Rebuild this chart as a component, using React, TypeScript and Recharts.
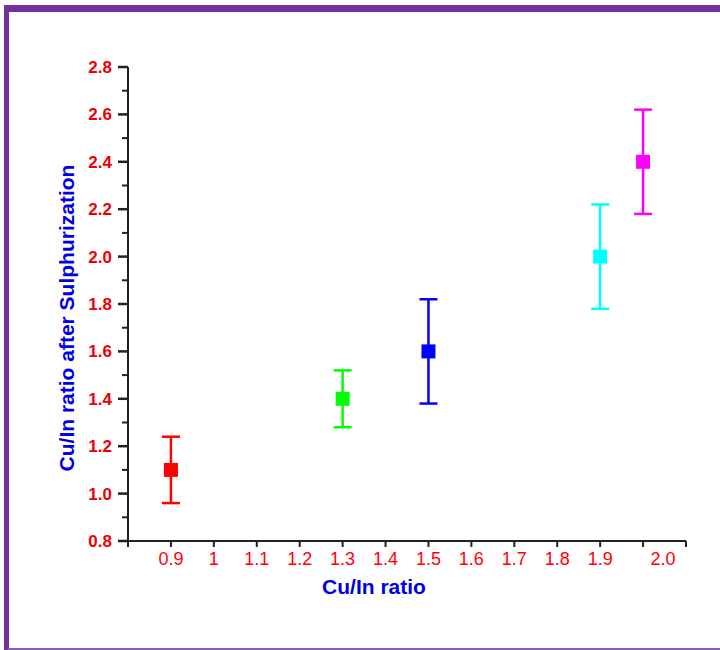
import { ScatterChart, Scatter, XAxis, YAxis, ErrorBar, Label } from 'recharts';

const xValues = [0.9, 1.3, 1.5, 1.9, 2.0];
const yValues = [1.1, 1.4, 1.6, 2.0, 2.4];
const yErrors = [0.14, 0.12, 0.22, 0.22, 0.22];
const pointColors = ['#FF0000', '#00FF00', '#0000FF', '#00FFFF', '#FF00FF'];

const xTicks = [0.8, 0.9, 1.0, 1.1, 1.2, 1.3, 1.4, 1.5, 1.6, 1.7, 1.8, 1.9, 2.0, 2.1];
const xTickLabels = ['', '0.9', '1', '1.1', '1.2', '1.3', '1.4', '1.5', '1.6', '1.7', '1.8', '1.9', '2.0', ''];

const yTicks = [
  0.8, 0.9, 1.0, 1.1, 1.2, 1.3, 1.4, 1.5, 1.6, 1.7, 1.8, 1.9, 2.0, 2.1, 2.2, 2.3, 2.4, 2.5, 2.6, 2.7, 2.8,
];
const yTickLabels = ['0.8', '1.0', '1.2', '1.4', '1.6', '1.8', '2.0', '2.2', '2.4', '2.6', '2.8'];

const FONT = 'Arial, "Liberation Sans", sans-serif';
const AXIS_COLOR = '#222';
const TITLE_COLOR = '#0000E6';
const TICK_SIZE = 10;
const TICK_MARGIN = 6;

const findIndex = (arr: number[], v: number) => arr.findIndex((t) => Math.abs(t - v) < 1e-6);

function XTick(props: any) {
  const { x, y, payload } = props;
  const i = findIndex(xTicks, payload.value);
  const axisY = y - TICK_SIZE - TICK_MARGIN;
  const label = xTickLabels[i] ?? '';
  // the last label sits off its tick in the original figure
  const shift = label === '2.0' ? 20 : 0;
  return (
    <g>
      <line x1={x} x2={x} y1={axisY} y2={axisY + 6} stroke={AXIS_COLOR} strokeWidth={2} />
      {label && (
        <text x={x + shift} y={axisY + 24} textAnchor="middle" fill="#FF0000" fontSize={18} fontFamily={FONT}>
          {label}
        </text>
      )}
    </g>
  );
}

function YTick(props: any) {
  const { x, y, payload } = props;
  const i = findIndex(yTicks, payload.value);
  const axisX = x + TICK_SIZE + TICK_MARGIN;
  const major = i % 2 === 0;
  const len = major ? 10 : 6;
  return (
    <g>
      <line x1={axisX - len} x2={axisX} y1={y} y2={y} stroke={AXIS_COLOR} strokeWidth={major ? 2.5 : 2} />
      {major && (
        <text
          x={axisX - TICK_SIZE - TICK_MARGIN}
          y={y + 6}
          textAnchor="end"
          fill="#EE0000"
          fontSize={17}
          fontWeight="bold"
          fontFamily={FONT}
        >
          {yTickLabels[i / 2]}
        </text>
      )}
    </g>
  );
}

export default function App() {
  return (
    <div
      style={{
        position: 'absolute',
        left: 0,
        top: 0,
        width: 720,
        height: 650,
        overflow: 'hidden',
        background: '#fff',
      }}
    >
      <div
        style={{
          position: 'absolute',
          left: 4,
          top: 5,
          width: 800,
          height: 649,
          boxSizing: 'border-box',
          borderTop: '7px solid #7030A0',
          borderLeft: '5px solid #7030A0',
          borderBottom: '6px solid #8A5CC0',
        }}
      />
      <div style={{ position: 'absolute', left: 0, top: 0 }}>
        <ScatterChart width={720} height={650} margin={{ top: 67, right: 34, bottom: 49, left: 68 }}>
          <XAxis
            type="number"
            dataKey="x"
            domain={[0.8, 2.1]}
            ticks={xTicks}
            interval={0}
            height={60}
            tickSize={TICK_SIZE}
            tickMargin={TICK_MARGIN}
            tickLine={false}
            tick={<XTick />}
            axisLine={{ stroke: AXIS_COLOR, strokeWidth: 2 }}
          >
            <Label
              content={() => (
                <text
                  x={374}
                  y={586}
                  textAnchor="middle"
                  dominantBaseline="central"
                  fill={TITLE_COLOR}
                  fontSize={21}
                  fontWeight="bold"
                  fontFamily={FONT}
                >
                  Cu/In ratio
                </text>
              )}
            />
          </XAxis>
          <YAxis
            type="number"
            dataKey="y"
            domain={[0.8, 2.8]}
            ticks={yTicks}
            interval={0}
            width={60}
            tickSize={TICK_SIZE}
            tickMargin={TICK_MARGIN}
            tickLine={false}
            tick={<YTick />}
            axisLine={{ stroke: AXIS_COLOR, strokeWidth: 2 }}
          >
            <Label
              content={() => (
                <text
                  x={66}
                  y={318}
                  transform="rotate(-90, 66, 318)"
                  textAnchor="middle"
                  dominantBaseline="central"
                  fill={TITLE_COLOR}
                  fontSize={21}
                  fontWeight="bold"
                  fontFamily={FONT}
                >
                  Cu/In ratio after Sulphurization
                </text>
              )}
            />
          </YAxis>
          {xValues.map((xv, i) => (
            <Scatter
              key={`s-${i}`}
              data={[{ x: xv, y: yValues[i], err: yErrors[i] }]}
              fill={pointColors[i]}
              isAnimationActive={false}
              shape={(p: any) => (
                <rect x={p.cx - 7} y={p.cy - 7} width={14} height={14} fill={pointColors[i]} />
              )}
            >
              <ErrorBar
                dataKey="err"
                direction="y"
                width={9}
                stroke={pointColors[i]}
                strokeWidth={2.5}
                isAnimationActive={false}
              />
            </Scatter>
          ))}
        </ScatterChart>
      </div>
    </div>
  );
}
